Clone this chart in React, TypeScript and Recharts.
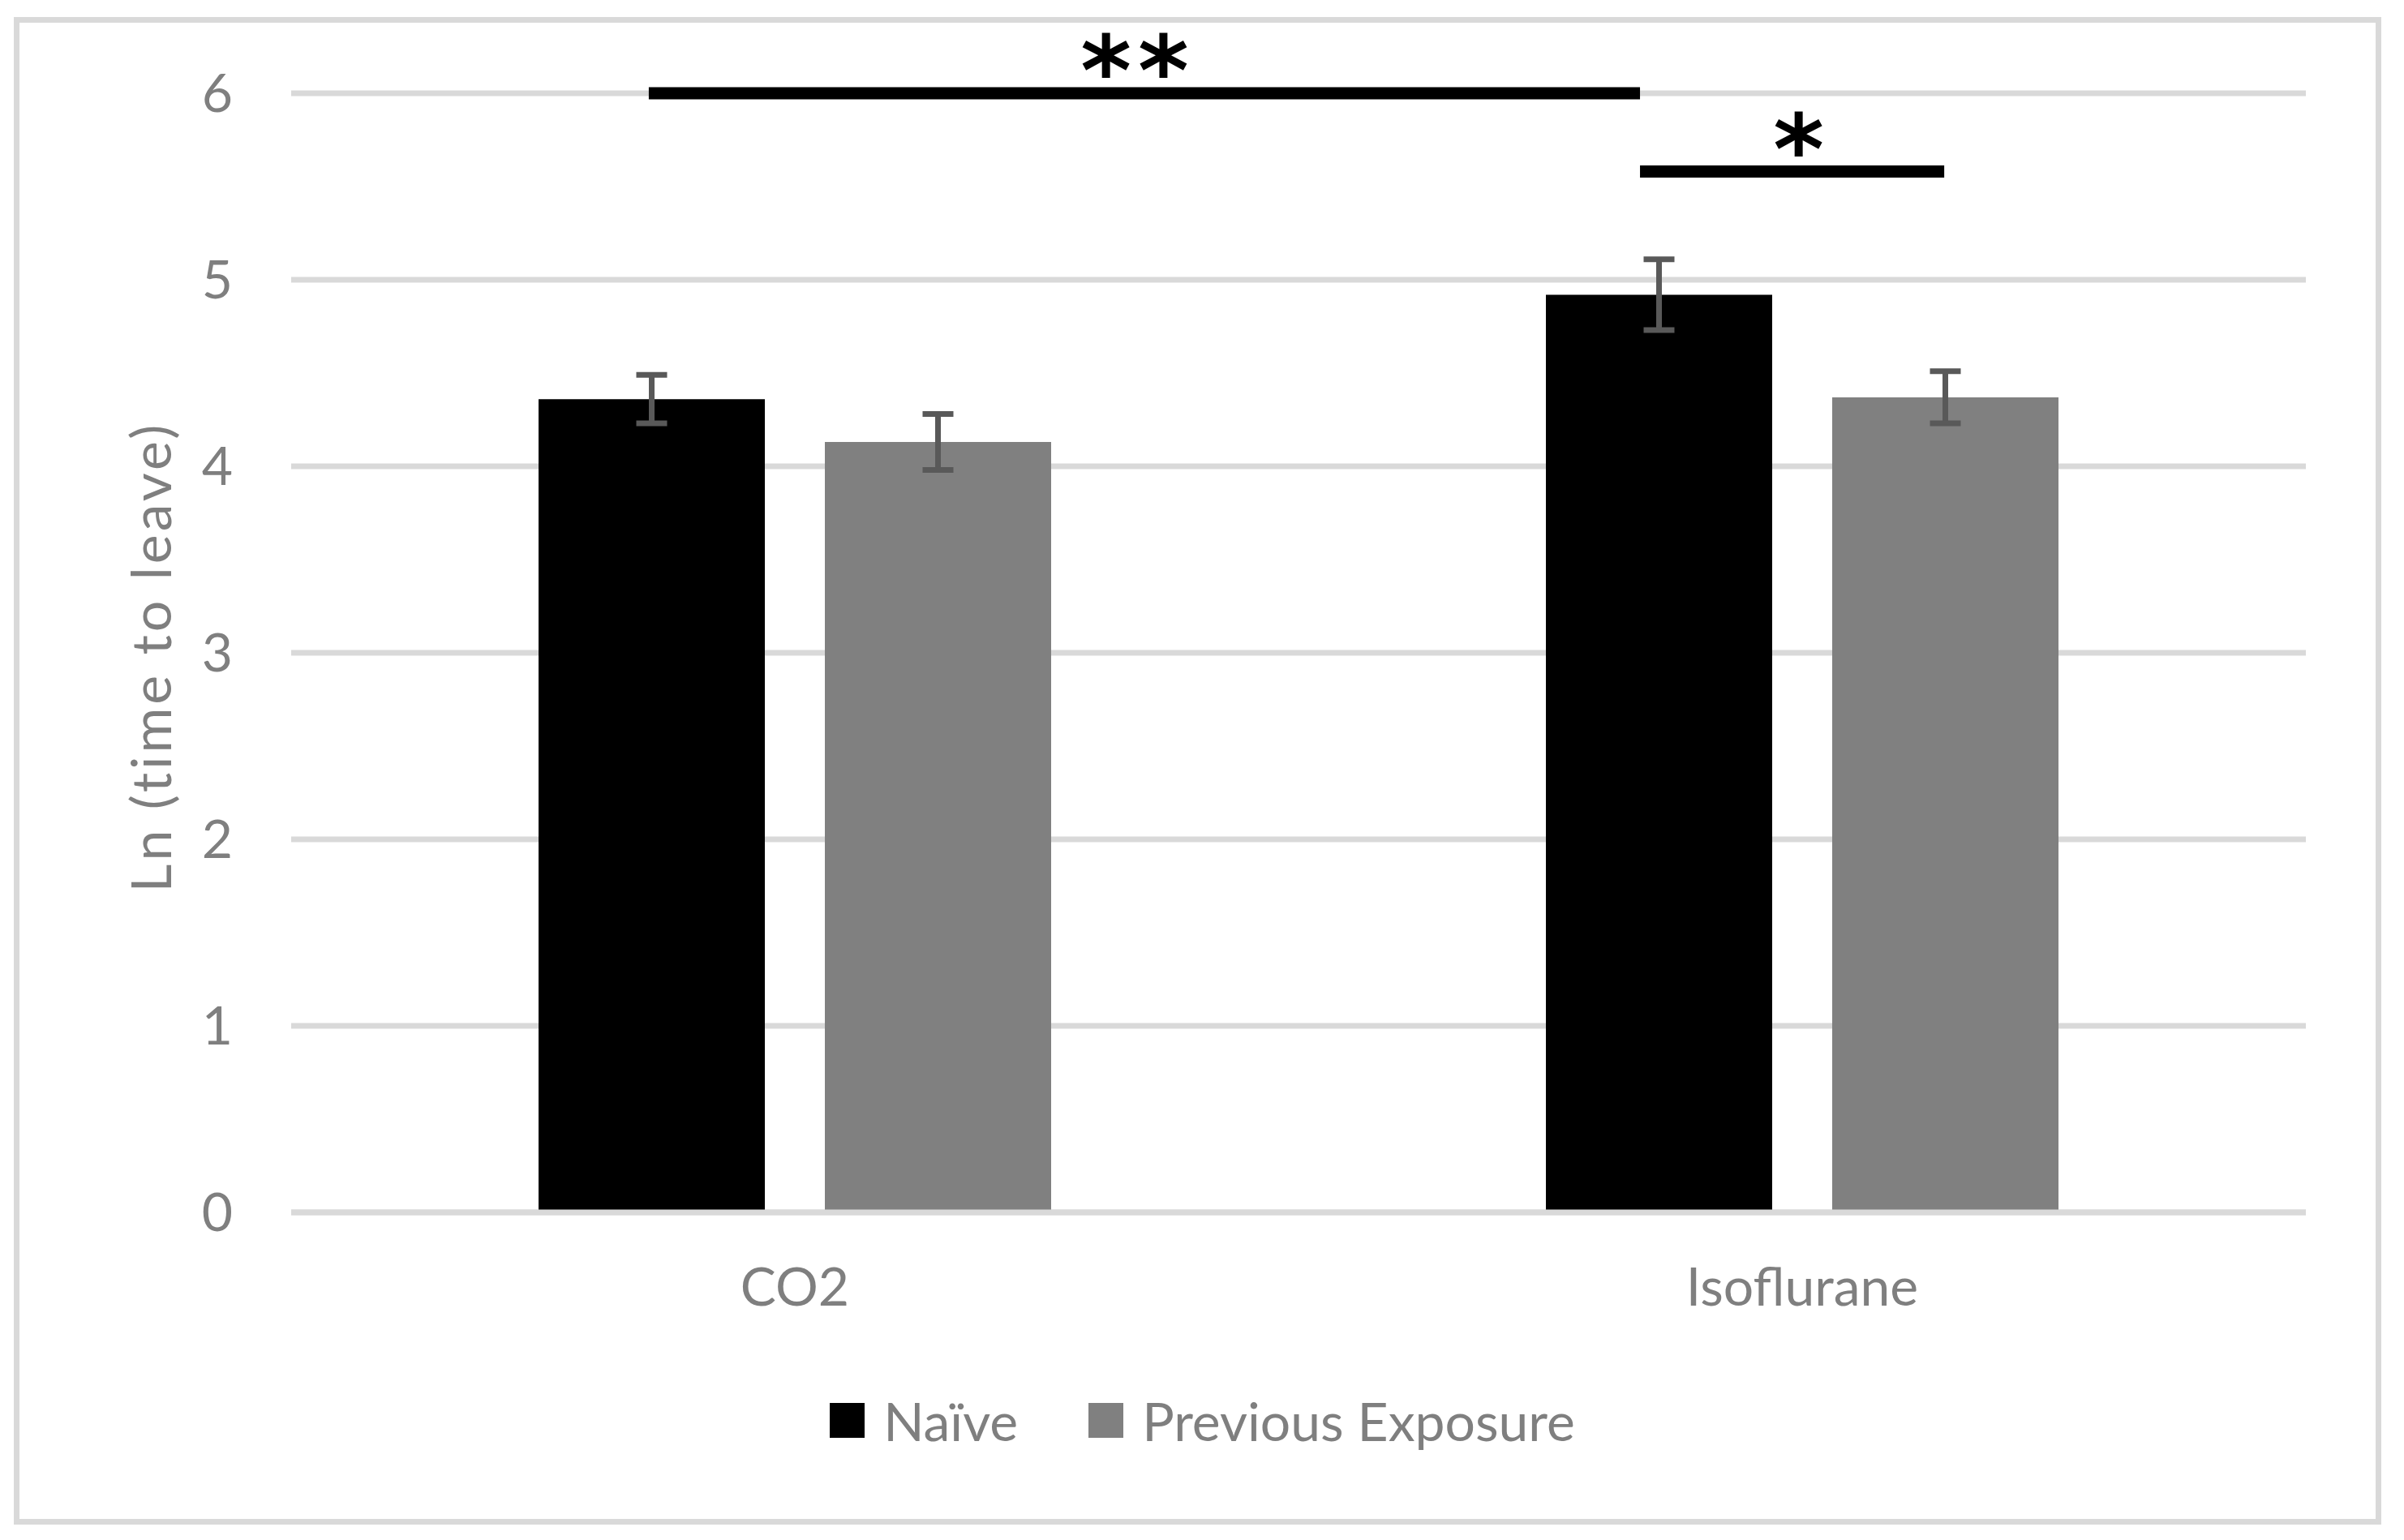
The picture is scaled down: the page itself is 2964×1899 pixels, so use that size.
import React from "react";
import {
  BarChart,
  Bar,
  XAxis,
  YAxis,
  CartesianGrid,
  ErrorBar,
  Legend,
  ReferenceLine,
} from "recharts";

const categories = ["CO2", "Isoflurane"];
const naive = [4.36, 4.92];
const naiveErr = [0.13, 0.19];
const previous = [4.13, 4.37];
const previousErr = [0.15, 0.14];
const yTicks = [0, 1, 2, 3, 4, 5, 6];

// significance brackets; x runs 0..2 across the two groups (group centres at 0.5, 1.5)
const groupPos = [0.5, 1.5];
const sigLabels = ["**", "*"];
const sigY = [6.0, 5.58];
const sigFrom = [0.355, 1.339];
const sigTo = [1.339, 1.641];

const data = categories.map((name, i) => ({
  name,
  pos: groupPos[i],
  naive: naive[i],
  naiveErr: naiveErr[i],
  previous: previous[i],
  previousErr: previousErr[i],
}));

const FONT = "Lato, 'Open Sans', sans-serif";
const GREY_TEXT = "#7f7f7f";

function YAxisTitle({ viewBox }: any) {
  const cx = viewBox.x + 160;
  const cy = viewBox.y + viewBox.height / 2 + 5;
  return (
    <text
      x={cx}
      y={cy}
      transform={`rotate(-90 ${cx} ${cy})`}
      textAnchor="middle"
      dominantBaseline="central"
      fill={GREY_TEXT}
      fontSize={68}
      letterSpacing={4}
      fontFamily={FONT}
    >
      Ln (time to leave)
    </text>
  );
}

function sigLabel(text: string, dx: number) {
  return ({ viewBox }: any) => {
    const cx = viewBox.x + viewBox.width / 2 + dx;
    const y = viewBox.y;
    return (
      <text
        x={cx}
        y={y + 14}
        textAnchor="middle"
        fill="#000"
        fontSize={120}
        fontWeight="bold"
        fontFamily="'DejaVu Sans'"
        letterSpacing={8}
      >
        {text}
      </text>
    );
  };
}

function LegendContent({ payload }: any) {
  return (
    <div
      style={{
        display: "flex",
        justifyContent: "center",
        alignItems: "center",
        boxSizing: "border-box",
        height: 100,
        paddingLeft: 98,
        paddingBottom: 8,
        fontFamily: FONT,
        fontSize: 66,
        color: GREY_TEXT,
      }}
    >
      {(payload || []).map((entry: any, i: number) => (
        <div
          key={entry.value}
          style={{ display: "flex", alignItems: "center", marginRight: i === 0 ? 87 : 0 }}
        >
          <span
            style={{
              display: "inline-block",
              width: 43,
              height: 43,
              background: entry.color,
              marginRight: 23,
            }}
          />
          <span>{entry.value}</span>
        </div>
      ))}
    </div>
  );
}

export default function App() {
  return (
    <div
      style={{
        marginLeft: 9,
        marginTop: 13,
        width: 2919,
        height: 1859,
        boxSizing: "border-box",
        border: "7px solid #d9d9d9",
        background: "#fff",
      }}
    >
      <BarChart
        width={2905}
        height={1845}
        data={data}
        margin={{ top: 87, right: 86, left: 0, bottom: 68 }}
        barCategoryGap={305}
        barGap={74}
        style={{ fontFamily: FONT }}
      >
        <CartesianGrid vertical={false} stroke="#d9d9d9" strokeWidth={7} />
        <XAxis
          dataKey="name"
          axisLine={{ stroke: "#d9d9d9", strokeWidth: 7 }}
          tickLine={false}
          tickSize={0}
          tickMargin={68}
          height={210}
          tick={{ fill: GREY_TEXT, fontSize: 66, fontFamily: FONT }}
        />
        <XAxis
          xAxisId="sig"
          dataKey="pos"
          type="number"
          domain={[0, 2]}
          allowDataOverflow
          hide
        />
        <YAxis
          domain={[0, 6]}
          ticks={yTicks}
          width={335}
          axisLine={false}
          tickLine={false}
          tickSize={0}
          tickMargin={72}
          tick={{ fill: GREY_TEXT, fontSize: 66, fontFamily: FONT }}
          label={{ content: YAxisTitle }}
        />
        <Legend verticalAlign="bottom" content={LegendContent} />
        <Bar dataKey="naive" name="Naïve" fill="#000000" isAnimationActive={false}>
          <ErrorBar dataKey="naiveErr" width={19} strokeWidth={7} stroke="#595959" direction="y" />
        </Bar>
        <Bar dataKey="previous" name="Previous Exposure" fill="#808080" isAnimationActive={false}>
          <ErrorBar dataKey="previousErr" width={19} strokeWidth={7} stroke="#595959" direction="y" />
        </Bar>
        {sigLabels.map((lab, i) => (
          <ReferenceLine
            key={lab}
            xAxisId="sig"
            ifOverflow="visible"
            segment={[
              { x: sigFrom[i], y: sigY[i] },
              { x: sigTo[i], y: sigY[i] },
            ]}
            stroke="#000"
            strokeWidth={15}
            label={{ content: sigLabel(lab, i === 0 ? -8 : 12) }}
          />
        ))}
      </BarChart>
    </div>
  );
}
